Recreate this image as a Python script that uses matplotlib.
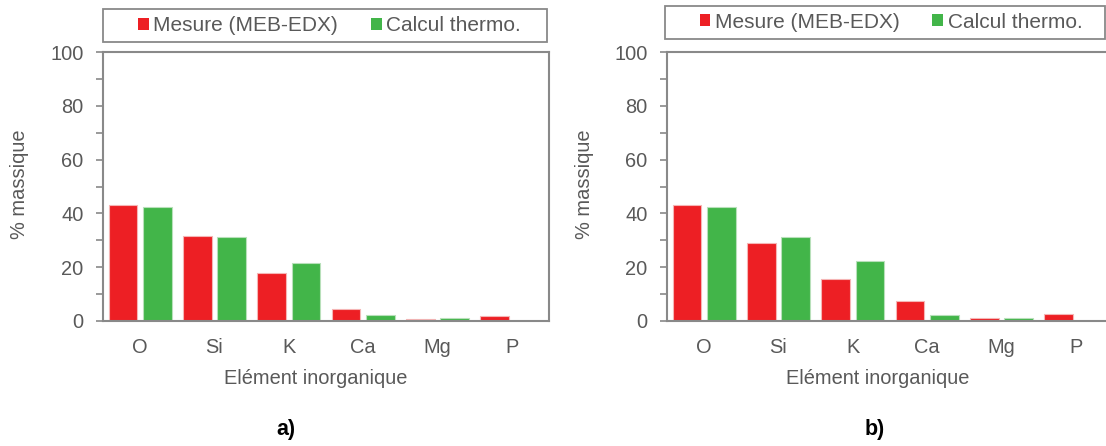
import matplotlib
matplotlib.use("Agg")
import matplotlib.pyplot as plt
from matplotlib.patches import Rectangle, Patch
import numpy as np

plt.rcParams['font.family'] = ['Liberation Sans', 'DejaVu Sans']

categories = ["O", "Si", "K", "Ca", "Mg", "P"]
mesure_a = [43.0, 31.5, 17.8, 4.3, 0.9, 1.7]
calcul_a = [42.4, 31.3, 21.6, 2.4, 1.1, 0.0]
mesure_b = [43.0, 29.1, 15.7, 7.3, 1.2, 2.6]
calcul_b = [42.3, 31.1, 22.2, 2.2, 1.1, 0.0]
series_names = ["Mesure (MEB-EDX)", "Calcul thermo."]
panel_labels = ["a)", "b)"]

RED = "#ED1F24"
GREEN = "#42B549"
GRAY = "#898989"
TXT = "#595959"

W, H = 1106, 446
fig = plt.figure(figsize=(W / 100, H / 100), dpi=100)

def fx(px):
    return px / W

def fy(py):
    return 1 - py / H

panels = [
    dict(left=103, mes=mesure_a, cal=calcul_a, lab=panel_labels[0],
         leg_box=(102.5, 9, 546.5, 41.5), leg_c=(329.5, 25.5),
         ylab_x=20, xlab_x=316, plab=(286, 429)),
    dict(left=667, mes=mesure_b, cal=calcul_b, lab=panel_labels[1],
         leg_box=(664.5, 5.5, 1105, 38.5), leg_c=(891, 22),
         ylab_x=585, xlab_x=878, plab=(875, 429)),
]

top, bottom, width = 52, 321, 446
x = np.arange(len(categories))
bw = 0.386
off = 0.231
FS = 14.4

for p in panels:
    ax = fig.add_axes([fx(p["left"]), fy(bottom), width / W, (bottom - top) / H])
    ax.bar(x - off, p["mes"], bw, color=RED, edgecolor="#F5B5B5", linewidth=0.8, zorder=2)
    ax.bar(x + off, p["cal"], bw, color=GREEN, edgecolor="#B8E0BA", linewidth=0.8, zorder=2)
    ax.set_xlim(-0.5, len(categories) - 0.5)
    ax.set_ylim(0, 100)
    ax.set_yticks(np.arange(0, 101, 20))
    ax.set_yticks(np.arange(10, 100, 20), minor=True)
    ax.set_xticks(x)
    ax.set_xticklabels(categories)
    for s in ax.spines.values():
        s.set_color(GRAY)
        s.set_linewidth(1.5)
    ax.tick_params(axis="y", which="both", length=5, width=1.2, color=GRAY,
                   labelsize=FS, labelcolor=TXT, pad=9)
    ax.tick_params(axis="x", length=0, labelsize=FS, labelcolor=TXT, pad=12)
    fig.text(fx(p["ylab_x"]), fy(184), "% massique", rotation=90, ha="center", va="center",
             fontsize=FS, color=TXT)
    fig.text(fx(p["xlab_x"]), fy(379), "Elément inorganique", ha="center", va="center",
             fontsize=FS, color=TXT)
    fig.text(fx(p["plab"][0]), fy(p["plab"][1]), p["lab"], ha="center", va="center",
             fontsize=15.5, fontweight="bold", color="black")
    x0, y0, x1, y1 = p["leg_box"]
    fig.patches.append(Rectangle((fx(x0), fy(y1)), fx(x1 - x0), (y1 - y0) / H,
                                 transform=fig.transFigure, fill=False,
                                 edgecolor=GRAY, linewidth=1.3))
    handles = [Patch(facecolor=RED), Patch(facecolor=GREEN)]
    fig.legend(handles, series_names, loc="center",
               bbox_to_anchor=(fx(p["leg_c"][0]), fy(p["leg_c"][1])),
               ncol=2, frameon=False, fontsize=15, labelcolor=TXT,
               handlelength=0.51, handleheight=0.51, handletextpad=0.22,
               columnspacing=1.58, borderpad=0, borderaxespad=0)

fig.savefig("out.png", dpi=100)
